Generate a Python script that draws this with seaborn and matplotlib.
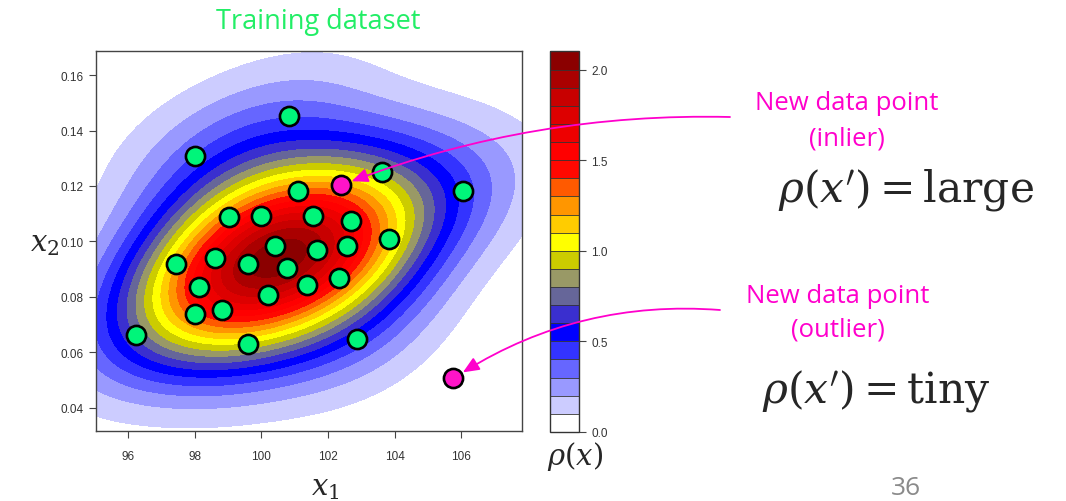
import numpy as np
import pandas as pd
import matplotlib
matplotlib.use("Agg")
import matplotlib.pyplot as plt
from matplotlib.patches import ConnectionPatch
import seaborn as sns

# training points (x1, x2)
x1_train = [100.83, 98.02, 103.61, 101.11, 106.07, 99.02, 99.99, 101.54, 102.68,
            103.82, 100.42, 101.66, 102.58, 98.60, 97.45, 99.61, 100.76, 98.14,
            101.36, 102.34, 100.19, 98.02, 98.83, 96.23, 99.61, 102.87]
x2_train = [0.1451, 0.1307, 0.1251, 0.1183, 0.1183, 0.1087, 0.1090, 0.1090, 0.1075,
            0.1007, 0.0984, 0.0969, 0.0984, 0.0940, 0.0917, 0.0917, 0.0903, 0.0834,
            0.0844, 0.0869, 0.0806, 0.0739, 0.0753, 0.0662, 0.0630, 0.0648]

# new points
x1_new = [102.40, 105.77]
x2_new = [0.1203, 0.0506]

# colour bands of rho(x), from 0.0 to 2.1 in steps of 0.1
rho_levels = np.round(np.arange(0, 2.11, 0.1), 2)
band_colors = ['#ffffff', '#ccccff', '#9999ff', '#6666ff', '#3333ff', '#0000ff',
               '#3a2fcf', '#666699', '#999966', '#cccc00', '#ffff00', '#ffcc00',
               '#ff9600', '#ff5a00', '#ff0800', '#ff0000', '#ee0000', '#dd0000',
               '#c80000', '#aa0000', '#8b0000']
cbar_ticks = [0.0, 0.5, 1.0, 1.5, 2.0]

df = pd.DataFrame({"x1": x1_train, "x2": x2_train})
df_new = pd.DataFrame({"x1": x1_new, "x2": x2_new})

sns.set_style("white")
plt.rcParams['mathtext.fontset'] = 'dejavuserif'

fig = plt.figure(figsize=(10.66, 5.02), dpi=100)
ax = fig.add_axes([0.090, 0.1394, 0.3994, 0.757])
cax = fig.add_axes([0.516, 0.1375, 0.0275, 0.758])

xlim = (95.03, 107.82)
ylim = (0.0316, 0.1687)

# 2d gaussian kde with kernel covariance = scaled data covariance
n = len(df)
bw = 0.9
kcov = np.cov(df[["x1", "x2"]].to_numpy().T) * bw ** 2
kinv = np.linalg.inv(kcov)
norm = n * 2 * np.pi * np.sqrt(np.linalg.det(kcov))
gx = np.linspace(xlim[0], xlim[1], 140)
gy = np.linspace(ylim[0], ylim[1], 140)
X, Y = np.meshgrid(gx, gy)
Z = np.zeros_like(X)
for a, b in zip(df["x1"], df["x2"]):
    dx, dy = X - a, Y - b
    Z += np.exp(-0.5 * (kinv[0, 0] * dx * dx + 2 * kinv[0, 1] * dx * dy + kinv[1, 1] * dy * dy))
Z /= norm

cs = ax.contourf(X, Y, Z, levels=rho_levels, colors=band_colors, extend='neither')

sns.scatterplot(data=df, x="x1", y="x2", ax=ax, s=190, color='#00f57a',
                edgecolor='black', linewidth=1.9, zorder=5, legend=False)
sns.scatterplot(data=df_new, x="x1", y="x2", ax=ax, s=190, color='#ff14c8',
                edgecolor='black', linewidth=1.9, zorder=5, legend=False)

ax.set_xlim(xlim)
ax.set_ylim(ylim)
ax.set_xticks([96, 98, 100, 102, 104, 106])
ax.set_yticks([0.04, 0.06, 0.08, 0.10, 0.12, 0.14, 0.16])
ax.set_yticklabels(["0.04", "0.06", "0.08", "0.10", "0.12", "0.14", "0.16"])
ax.tick_params(axis='both', direction='out', length=5, width=0.8, color='#444444',
               labelsize=8.5, labelcolor='#333333', bottom=True, left=True, pad=4)
ax.tick_params(axis='x', pad=9)
for lab in ax.get_xticklabels() + ax.get_yticklabels():
    lab.set_family(['Liberation Sans', 'DejaVu Sans'])
for sp in ax.spines.values():
    sp.set_color('#444444')
    sp.set_linewidth(1.0)
ax.set_xlabel("")
ax.set_ylabel("")

cb = fig.colorbar(cs, cax=cax, drawedges=True, ticks=cbar_ticks)
cb.ax.set_yticklabels(["0.0", "0.5", "1.0", "1.5", "2.0"])
cb.ax.tick_params(labelsize=8.5, labelcolor='#333333', length=5, width=0.8, color='#444444')
for lab in cb.ax.get_yticklabels():
    lab.set_family(['Liberation Sans', 'DejaVu Sans'])
cb.outline.set_edgecolor('#333333')
cb.outline.set_linewidth(1.0)
cb.dividers.set_color('#333333')
cb.dividers.set_linewidth(0.6)

# text
sans = ['Open Sans', 'DejaVu Sans']
fig.text(318, 480, "Training dataset", transform=None, fontsize=19.5,
         color='#22ee66', family=sans, ha='center', va='center')
fig.text(325, 14, r"$x_1$", transform=None, fontsize=21, ha='center', va='center')
fig.text(45, 258, r"$x_2$", transform=None, fontsize=21, ha='center', va='center')
fig.text(575, 45, r"$\rho(x)$", transform=None, fontsize=21, ha='center', va='center')

magenta = '#ff00cc'
fig.text(847, 398, "New data point", transform=None, fontsize=18.5, color=magenta,
         family=sans, ha='center', va='center')
fig.text(847, 363, "(inlier)", transform=None, fontsize=18.5, color=magenta,
         family=sans, ha='center', va='center')
fig.text(906, 312, r"$\rho(x') = \mathrm{large}$", transform=None, fontsize=30.5,
         ha='center', va='center')

fig.text(838, 205, "New data point", transform=None, fontsize=18.5, color=magenta,
         family=sans, ha='center', va='center')
fig.text(838, 172, "(outlier)", transform=None, fontsize=18.5, color=magenta,
         family=sans, ha='center', va='center')
fig.text(876, 111, r"$\rho(x') = \mathrm{tiny}$", transform=None, fontsize=30.5,
         ha='center', va='center')

fig.text(906, 13, "36", transform=None, fontsize=19, color='#8a8a8a',
         family=sans, ha='center', va='center')

# arrows from the labels to the new points
for (sx, sy), px, py, rad in [((730, 384), x1_new[0], x2_new[0], 0.1),
                              ((720, 191), x1_new[1], x2_new[1], 0.17)]:
    arr = ConnectionPatch((sx, sy), (px, py), coordsA='figure pixels', coordsB=ax.transData,
                          arrowstyle='-|>,head_length=0.7,head_width=0.3',
                          connectionstyle=f'arc3,rad={rad}', color=magenta, lw=1.3,
                          mutation_scale=14, shrinkA=0, shrinkB=8)
    arr.set_zorder(10)
    fig.add_artist(arr)

fig.savefig("out.png", dpi=100)
